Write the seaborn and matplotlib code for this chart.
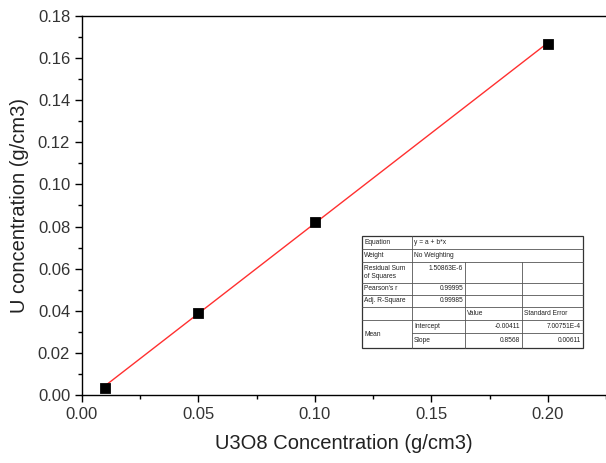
import matplotlib
matplotlib.use("Agg")
import matplotlib.pyplot as plt
import seaborn as sns
import numpy as np
import pandas as pd
from matplotlib.ticker import MultipleLocator
from matplotlib.patches import Rectangle

x_vals = [0.01, 0.05, 0.10, 0.20]
y_vals = [0.0035, 0.039, 0.082, 0.1665]
intercept = -0.00411
slope = 0.8568

sns.set_theme(style="ticks")
plt.rcParams['font.family'] = ['Liberation Sans', 'DejaVu Sans']

fig = plt.figure(figsize=(6.06, 4.63), dpi=100)
ax = fig.add_axes([82/606, 1-395/463, 1-82/606, (395-16)/463])

df = pd.DataFrame({"x": x_vals, "y": y_vals})
fit_x = np.array([x_vals[0], x_vals[-1]])
fit_df = pd.DataFrame({"x": fit_x, "y": intercept + slope * fit_x})
sns.lineplot(data=fit_df, x="x", y="y", ax=ax, color="#ff3030", lw=1.0)
sns.scatterplot(data=df, x="x", y="y", ax=ax, marker="s", s=50, color="black",
                edgecolor="black", zorder=3)

ax.set_xlim(0, 0.225)
ax.set_ylim(0, 0.18)
ax.xaxis.set_major_locator(MultipleLocator(0.05))
ax.xaxis.set_minor_locator(MultipleLocator(0.025))
ax.yaxis.set_major_locator(MultipleLocator(0.02))
ax.yaxis.set_minor_locator(MultipleLocator(0.01))
ax.xaxis.set_major_formatter(matplotlib.ticker.FormatStrFormatter('%.2f'))
ax.yaxis.set_major_formatter(matplotlib.ticker.FormatStrFormatter('%.2f'))
ax.tick_params(axis='both', which='major', direction='out', length=5, width=1,
               labelsize=12, labelcolor='#333333', color='black')
ax.tick_params(axis='both', which='minor', direction='out', length=3, width=1, color='black')
for s in ['left', 'bottom', 'top']:
    ax.spines[s].set_color('black')
    ax.spines[s].set_linewidth(1)
ax.spines['right'].set_visible(False)
ax.set_xlabel("U3O8 Concentration (g/cm3)", fontsize=14.5, color='#222222', labelpad=9)
ax.set_ylabel("U concentration (g/cm3)", fontsize=14.5, color='#222222', labelpad=6)

# Stats table drawn in figure pixel coordinates
def fx(px):
    return px / 606
def fy(py):
    return 1 - py / 463

cols = [362, 412, 465, 522, 583]
rows = [236, 249, 262, 283, 295, 307, 320, 333, 348]
lc = '#555555'
lw = 0.6
fig.patches.append(Rectangle((fx(cols[0]), fy(rows[-1])), fx(cols[-1]) - fx(cols[0]),
                             fy(rows[0]) - fy(rows[-1]), transform=fig.transFigure,
                             facecolor='white', edgecolor='#333333', lw=0.9, zorder=5))

def hline(py, x0, x1):
    fig.add_artist(plt.Line2D([fx(x0), fx(x1)], [fy(py), fy(py)], color=lc, lw=lw,
                              transform=fig.transFigure, zorder=6))
def vline(px, y0, y1):
    fig.add_artist(plt.Line2D([fx(px), fx(px)], [fy(y0), fy(y1)], color=lc, lw=lw,
                              transform=fig.transFigure, zorder=6))

for r in rows[1:-1]:
    if r == rows[7]:
        hline(r, cols[1], cols[-1])
    else:
        hline(r, cols[0], cols[-1])
vline(cols[1], rows[0], rows[-1])
vline(cols[2], rows[2], rows[-1])
vline(cols[3], rows[2], rows[-1])

fs = 4.8
tc = '#222222'
def txt(px, py, s, ha='left'):
    fig.text(fx(px), fy(py), s, fontsize=fs, color=tc, ha=ha, va='center', zorder=7)

txt(364, 242.5, "Equation")
txt(414, 242.5, "y = a + b*x")
txt(364, 255.5, "Weight")
txt(414, 255.5, "No Weighting")
txt(364, 269, "Residual Sum")
txt(364, 277, "of Squares")
txt(463, 268, "1.50863E-6", ha='right')
txt(364, 289, "Pearson's r")
txt(463, 289, "0.99995", ha='right')
txt(364, 301, "Adj. R-Square")
txt(463, 301, "0.99985", ha='right')
txt(467, 313.5, "Value")
txt(524, 313.5, "Standard Error")
txt(364, 334, "Mean")
txt(414, 326.5, "Intercept")
txt(520, 326.5, "-0.00411", ha='right')
txt(581, 326.5, "7.00751E-4", ha='right')
txt(414, 340.5, "Slope")
txt(520, 340.5, "0.8568", ha='right')
txt(581, 340.5, "0.00611", ha='right')

fig.savefig("out.png", dpi=100)
